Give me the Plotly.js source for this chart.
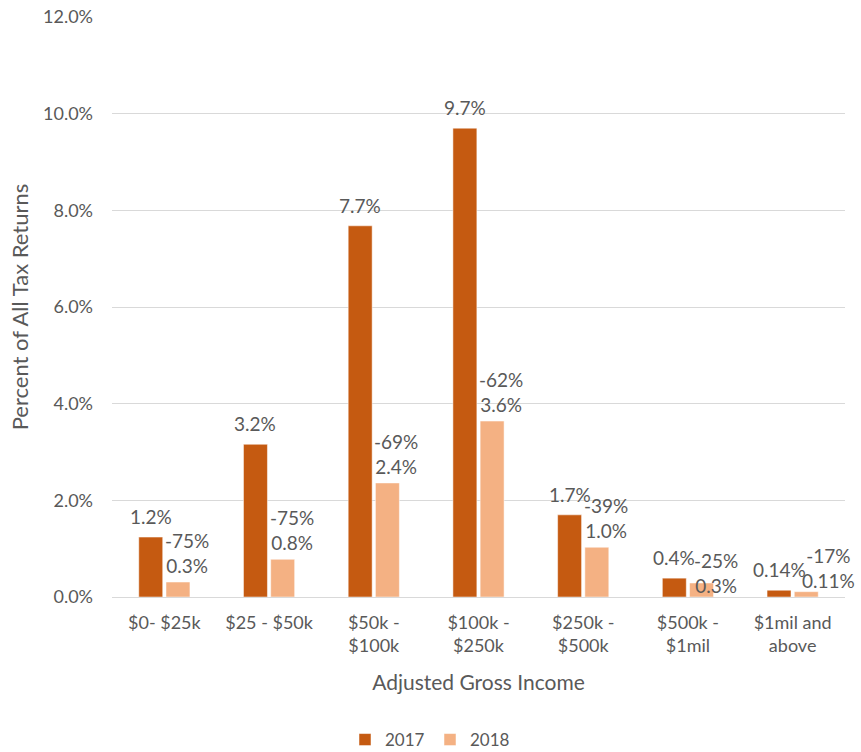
<!DOCTYPE html>
<html>
<head>
<meta charset="utf-8">
<script src="https://cdn.plot.ly/plotly-3.0.1.min.js"></script>
<style>html,body{margin:0;padding:0;background:#fff;overflow:hidden;}#chart{width:861px;height:752px;}</style>
</head>
<body>
<div id="chart"></div>
<script>
const categories = ['$0- $25k', '$25 - $50k', '$50k -<br>$100k', '$100k -<br>$250k', '$250k -<br>$500k', '$500k -<br>$1mil', '$1mil and<br>above'];
const values2017 = [0.0124, 0.0316, 0.0768, 0.0970, 0.0170, 0.0039, 0.0014];
const values2018 = [0.0031, 0.0078, 0.0236, 0.0364, 0.0103, 0.0029, 0.0011];
const labels2017 = ['1.2%', '3.2%', '7.7%', '9.7%', '1.7%', '0.4%', '0.14%'];
const change2018 = ['-75%', '-75%', '-69%', '-62%', '-39%', '-25%', '-17%'];
const labels2018 = ['0.3%', '0.8%', '2.4%', '3.6%', '1.0%', '0.3%', '0.11%'];
const yTickVals = [0, 0.02, 0.04, 0.06, 0.08, 0.10, 0.12];

const W = 861, H = 752;
const M = {l: 112, r: 16, t: 17, b: 155, autoexpand: false};
const BARGAP = 0.48, BARGROUPGAP = 0.12;
const FONT = 'Lato, "Open Sans", sans-serif';
const TXT = '#595959';
const FS_TICK = 18, FS_LABEL = 19, FS_TITLE = 21, FS_LEG = 17;

const plotW = W - M.l - M.r;
const plotH = H - M.t - M.b;
const slotPx = plotW / categories.length;
const groupPx = slotPx * (1 - BARGAP);
const barSlot = groupPx / 2;
const off2017 = -barSlot / 2;
const left2018 = barSlot * BARGROUPGAP / 2;
// manual label nudges (px) matching the hand-placed labels of the original
const nudge2018 = {5: {dx: 5, dy: -19}, 6: {dx: 9, dy: -5}};

const annotations = [];
categories.forEach((c, i) => {
  annotations.push({
    x: c, y: values2017[i], xref: 'x', yref: 'y',
    text: labels2017[i], showarrow: false,
    xanchor: 'center', yanchor: 'bottom',
    xshift: off2017, yshift: 7,
    font: {family: FONT, size: FS_LABEL, color: TXT}
  });
  const n = nudge2018[i] || {dx: 0, dy: 0};
  annotations.push({
    x: c, y: values2018[i], xref: 'x', yref: 'y',
    text: change2018[i] + '<br>' + labels2018[i], showarrow: false,
    xanchor: 'left', yanchor: 'bottom', align: 'center',
    xshift: left2018 - 3 + n.dx, yshift: 3 + n.dy,
    font: {family: FONT, size: FS_LABEL, color: TXT}
  });
});

const traces = [
  {type: 'bar', name: '2017', x: categories, y: values2017,
   marker: {color: '#C55A11', line: {color: '#ffffff', width: 0.5}}, hoverinfo: 'skip'},
  {type: 'bar', name: '2018', x: categories, y: values2018,
   marker: {color: '#F4B183', line: {color: '#ffffff', width: 0.5}}, hoverinfo: 'skip'}
];

const layout = {
  width: W, height: H,
  margin: M,
  paper_bgcolor: '#ffffff', plot_bgcolor: '#ffffff',
  font: {family: FONT, size: FS_TICK, color: TXT},
  barmode: 'group', bargap: BARGAP, bargroupgap: BARGROUPGAP,
  showlegend: true,
  legend: {orientation: 'h',
           x: (430 - M.l) / plotW, xanchor: 'center',
           y: -(H - 12 - M.t - plotH) / plotH, yanchor: 'middle',
           entrywidth: 40, entrywidthmode: 'pixels',
           font: {family: FONT, size: FS_LEG, color: TXT}},
  xaxis: {
    type: 'category', automargin: false, tickangle: 0,
    range: [-0.5, categories.length - 0.5], autorange: false,
    showgrid: false, showline: true, linecolor: '#D9D9D9', linewidth: 1,
    ticks: 'outside', ticklen: 9, tickcolor: 'rgba(0,0,0,0)',
    tickfont: {family: FONT, size: FS_TICK, color: TXT},
    title: {text: 'Adjusted Gross Income', font: {family: FONT, size: FS_TITLE, color: TXT}, standoff: 20}
  },
  yaxis: {
    range: [0, 0.12], tickvals: yTickVals, tickformat: '.1%', automargin: false,
    showgrid: true, gridcolor: '#D9D9D9', gridwidth: 1, zeroline: false,
    showline: false, ticks: '', ticklabelstandoff: 18,
    tickfont: {family: FONT, size: FS_TICK, color: TXT},
    title: {text: 'Percent of All Tax Returns', font: {family: FONT, size: 22, color: TXT}, standoff: 8}
  },
  annotations: annotations
};

Plotly.newPlot('chart', traces, layout, {displayModeBar: false, staticPlot: true});
</script>
</body>
</html>
